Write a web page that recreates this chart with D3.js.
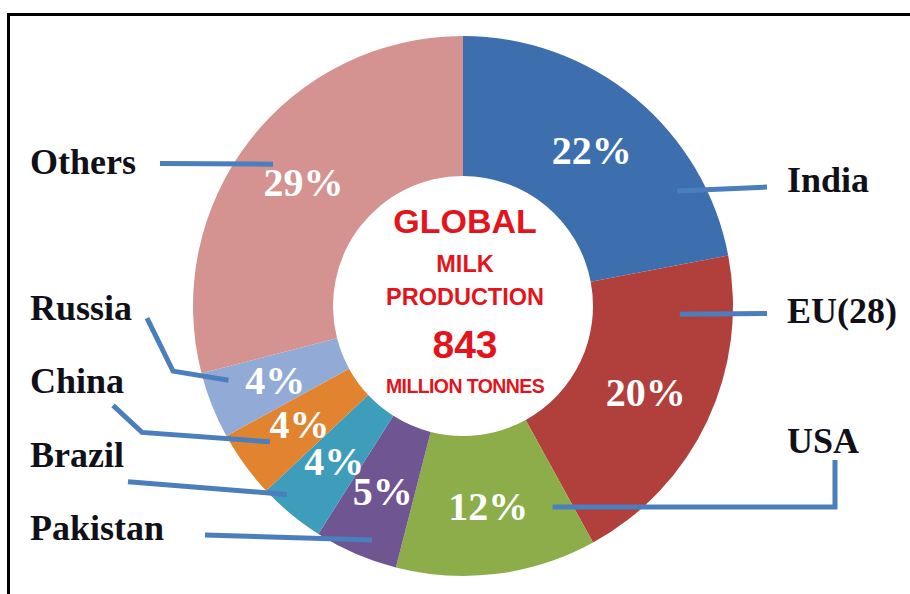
<!DOCTYPE html>
<html>
<head>
<meta charset="utf-8">
<script src="https://cdn.jsdelivr.net/npm/d3@7"></script>
<style>
  body { margin: 0; background: #fff; }
  svg { display: block; }
</style>
</head>
<body>
<div id="chart"></div>
<script>

// data, clockwise from 12 o'clock
var countries = ['India', 'EU(28)', 'USA', 'Pakistan', 'Brazil', 'China', 'Russia', 'Others'];
var shares    = [22, 20, 12, 5, 4, 4, 4, 29];
var colors    = ['#3d6fae', '#b1403d', '#8cad4a', '#6f5591', '#3e9dbb', '#e2842f', '#92abd6', '#d49391'];
var centerText = ['GLOBAL', 'MILK', 'PRODUCTION', '843', 'MILLION TONNES'];

// layout of the country labels and their leader lines
// row: slot on its side, t/r: where the line touches the slice, from: line start relative to label
var labelLayout = {
	'India':    { side: 'right', row: 0, t: 0.78, r: 243, from: [-20, -5] },
	'EU(28)':   { side: 'right', row: 1, t: 0.18, r: 217, from: [-20, -9] },
	'USA':      { side: 'right', row: 2, t: 0.11, r: 220, from: [48, 7], elbow: 'v' },
	'Pakistan': { side: 'left',  row: 5, t: 0.38, r: 251, from: [175, -5] },
	'Brazil':   { side: 'left',  row: 4, t: 0.74, r: 258, from: [98, 15] },
	'China':    { side: 'left',  row: 3, t: 0.56, r: 236, from: [83, 12], elbow: [29, 27] },
	'Russia':   { side: 'left',  row: 2, t: 0.78, r: 246, from: [117, -2], elbow: [26, 53] },
	'Others':   { side: 'left',  row: 0, t: 0.49, r: 237, from: [130, -10] }
};

var width = 910, height = 594;
var cx = 463, cy = 306;
var outerR = 270, innerR = 130, labelR = 202;

var data = countries.map(function(c, i) {
	return { name: c, value: shares[i], color: colors[i] };
});

var svg = d3.select('#chart')
			.append('svg')
			.attr('width', width)
			.attr('height', height);

// frame (only left and top edges are in view)
svg.append('path')
   .attr('d', 'M8.5,' + height + 'V14.5H' + width)
   .attr('fill', 'none')
   .attr('stroke', '#000')
   .attr('stroke-width', 3);

var g = svg.append('g')
		   .attr('transform', 'translate(' + cx + ',' + cy + ')');

var pie = d3.pie()
			.value(function(d) { return d.value; })
			.sort(null);

var arc = d3.arc()
			.innerRadius(innerR)
			.outerRadius(outerR);

var labelArc = d3.arc()
				 .innerRadius(labelR)
				 .outerRadius(labelR);

var arcs = pie(data);

g.selectAll('path.slice')
 .data(arcs)
 .enter()
 .append('path')
 .attr('class', 'slice')
 .attr('d', arc)
 .attr('fill', function(d) { return d.data.color; });

// row scales for the label columns
var leftY  = d3.scaleLinear().domain([0, 5]).range([173.5, 540]);
var rightY = d3.scaleLinear().domain([0, 2]).range([192, 453]);
var leftX = 30, rightX = 787;

function labelPos(name) {
	var L = labelLayout[name];
	return L.side == 'left' ? [leftX, leftY(L.row)] : [rightX, rightY(L.row)];
}

// leader lines
var line = d3.line();
svg.append('g')
   .selectAll('path')
   .data(arcs)
   .enter()
   .append('path')
   .attr('d', function(d) {
		var L = labelLayout[d.data.name];
		var p = labelPos(d.data.name);
		var a = d.startAngle + L.t * (d.endAngle - d.startAngle);
		var e = d3.pointRadial(a, L.r);
		var end = [cx + e[0], cy + e[1]];
		var start = [p[0] + L.from[0], p[1] + L.from[1]];
		var pts = [start];
		if (L.elbow == 'v') pts.push([start[0], end[1]]);
		else if (L.elbow) pts.push([start[0] + L.elbow[0], start[1] + L.elbow[1]]);
		pts.push(end);
		return line(pts);
	})
   .attr('fill', 'none')
   .attr('stroke', '#4a7ebd')
   .attr('stroke-width', 5)
   .attr('stroke-linejoin', 'miter');

// country names
svg.append('g')
   .selectAll('text')
   .data(data)
   .enter()
   .append('text')
   .attr('x', function(d) { return labelPos(d.name)[0]; })
   .attr('y', function(d) { return labelPos(d.name)[1]; })
   .attr('font-family', '"Liberation Serif", "Times New Roman", serif')
   .attr('font-weight', 'bold')
   .attr('font-size', 36)
   .attr('fill', '#111018')
   .text(function(d) { return d.name; });

// percentages on the ring
g.selectAll('text.pct')
 .data(arcs)
 .enter()
 .append('text')
 .attr('class', 'pct')
 .attr('transform', function(d) { return 'translate(' + labelArc.centroid(d) + ')'; })
 .attr('dy', '0.34em')
 .attr('text-anchor', 'middle')
 .attr('font-family', '"Liberation Serif", "Times New Roman", serif')
 .attr('font-weight', 'bold')
 .attr('font-size', 40)
 .attr('fill', '#fff')
 .text(function(d) { return d.data.value + '%'; });

// centre caption
var centerStyle = [
	{ y: -73, size: 34 },
	{ y: -34, size: 23.5 },
	{ y: -1,  size: 23.5 },
	{ y: 52,  size: 39 },
	{ y: 87,  size: 19.5 }
];

g.selectAll('text.center')
 .data(centerText)
 .enter()
 .append('text')
 .attr('class', 'center')
 .attr('x', 2)
 .attr('y', function(d, i) { return centerStyle[i].y; })
 .attr('text-anchor', 'middle')
 .attr('font-family', '"Liberation Sans", Arial, sans-serif')
 .attr('font-weight', 'bold')
 .attr('font-size', function(d, i) { return centerStyle[i].size; })
 .attr('letter-spacing', function(d, i) { return i == 4 ? -0.6 : 0; })
 .attr('fill', '#e3141c')
 .text(function(d) { return d; });

</script>
</body>
</html>
